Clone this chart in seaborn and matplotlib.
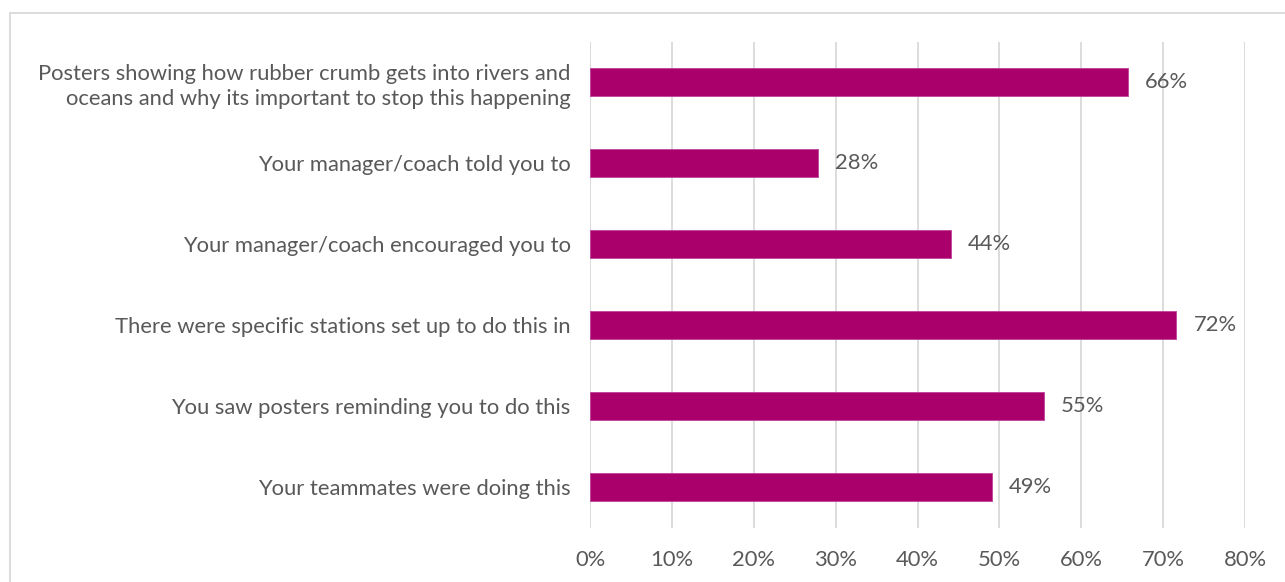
import matplotlib
matplotlib.use("Agg")
import matplotlib.pyplot as plt
import seaborn as sns
import pandas as pd
from matplotlib.ticker import FuncFormatter
from matplotlib.patches import Rectangle

categories = [
    "Posters showing how rubber crumb gets into rivers and\noceans and why its important to stop this happening",
    "Your manager/coach told you to",
    "Your manager/coach encouraged you to",
    "There were specific stations set up to do this in",
    "You saw posters reminding you to do this",
    "Your teammates were doing this",
]
values = [0.657, 0.278, 0.441, 0.716, 0.554, 0.491]
x_ticks = [0, 0.1, 0.2, 0.3, 0.4, 0.5, 0.6, 0.7, 0.8]

df = pd.DataFrame({"category": categories, "value": values})

sns.set_theme(style="white")
plt.rcParams['font.family'] = ['Lato', 'DejaVu Sans']

grey = "#595959"
bar_color = "#AA006C"
fs = 15.8

fig = plt.figure(figsize=(12.85, 5.82), dpi=100)
ax = fig.add_axes([590/1285, 1 - 527.5/582, (1245-590)/1285, (527.5-41.5)/582])

sns.barplot(data=df, x="value", y="category", orient="h", color=bar_color,
            width=0.35, ax=ax, saturation=1, edgecolor="#C0409A", linewidth=0.6)

ax.set_xlim(0, 0.8)
ax.set_xticks(x_ticks)
ax.xaxis.set_major_formatter(FuncFormatter(lambda v, p: f"{v*100:.0f}%"))
ax.grid(axis="x", color="#D9D9D9", linewidth=1.3)
ax.set_axisbelow(True)
for s in ax.spines.values():
    s.set_visible(False)
ax.set_xlabel("")
ax.set_ylabel("")
ax.tick_params(axis="x", colors=grey, labelsize=fs, length=0, pad=16)
ax.tick_params(axis="y", colors=grey, labelsize=fs, length=0, pad=14)
for t in ax.get_yticklabels():
    t.set_multialignment("right")
    t.set_linespacing(1.3)

for i, v in enumerate(values):
    ax.text(v + 0.021, i, f"{v*100:.0f}%", va="center", ha="left", color=grey, fontsize=fs)

fig.patches.append(Rectangle((10/1285, -0.1), 1.2, 1 - 13/582 + 0.1, transform=fig.transFigure,
                             fill=False, edgecolor="#D9D9D9", linewidth=1.3))

fig.savefig("out.png", dpi=100)
